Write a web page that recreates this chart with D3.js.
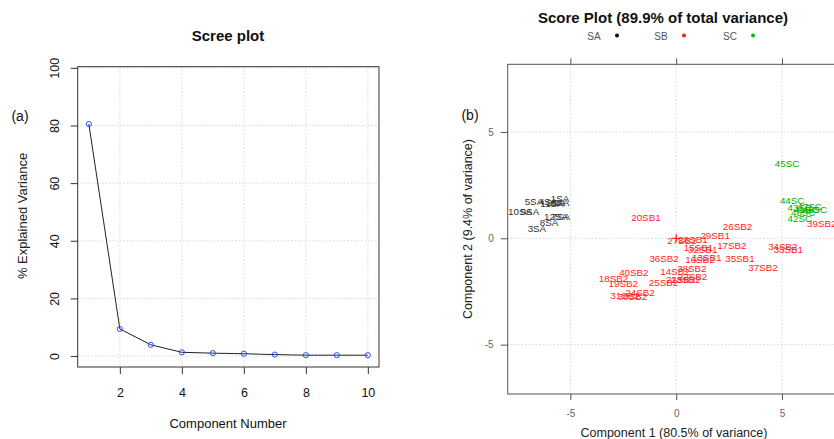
<!DOCTYPE html>
<html>
<head>
<meta charset="utf-8">
<script src="https://cdn.jsdelivr.net/npm/d3@7"></script>
<style>
  body { margin: 0; background: #fff; }
  svg { font-family: Arial, "Liberation Sans", sans-serif; display: block; }
  .grid line { stroke: #d6d6d6; stroke-dasharray: 1.5,2; }
</style>
</head>
<body>
<svg width="834" height="439"></svg>
<script>
// scree plot values
const screeComp = [1, 2, 3, 4, 5, 6, 7, 8, 9, 10];
const screeVar = [80.5, 9.4, 3.9, 1.3, 1.0, 0.8, 0.5, 0.3, 0.3, 0.3];
const screeXTicks = [2, 4, 6, 8, 10];
const screeYTicks = [0, 20, 40, 60, 80, 100];

// score plot values
const saLabels = ["1SA", "2SA", "3SA", "4SA", "5SA", "6SA", "7SA", "8SA", "9SA", "10SA", "11SA", "12SA"];
const saPC1 = [-5.49, -5.68, -6.58, -6.06, -6.72, -5.49, -5.45, -6.01, -6.91, -7.38, -5.87, -5.68];
const saPC2 = [1.85, 1.66, 0.44, 1.75, 1.75, 1.66, 1.00, 0.72, 1.24, 1.24, 1.61, 1.00];

const sbLabels = ["13SB1", "14SB2", "15SB1", "16SB2", "17SB2", "18SB2", "19SB2", "20SB1", "21SB2", "22SB2",
  "23SB2", "24SB2", "25SB2", "26SB2", "27SB2", "28SB1", "29SB1", "30SB2", "31SB2", "32SB1",
  "33SB1", "34SB2", "35SB1", "36SB2", "37SB2", "38SB2", "39SB2", "40SB2"];
const sbPC1 = [1.44, -0.06, 1.05, 1.12, 2.63, -2.96, -2.50, -1.43, 0.21, 0.77,
  0.45, -1.71, -0.60, 2.90, 0.27, 0.79, 1.84, -2.06, -2.42, 1.25,
  5.30, 5.04, 3.01, -0.57, 4.10, 0.74, 6.88, -2.00];
const sbPC2 = [-0.89, -1.55, -0.45, -1.02, -0.35, -1.90, -2.15, 0.98, -1.95, -1.80,
  -1.92, -2.56, -2.09, 0.55, -0.13, -0.08, 0.12, -2.76, -2.71, -0.55,
  -0.55, -0.39, -0.97, -0.94, -1.36, -1.40, 0.70, -1.62];

const scLabels = ["41SC", "42SC", "43SC", "44SC", "45SC", "46SC", "47SC", "48SC"];
const scPC1 = [6.16, 5.84, 5.84, 5.48, 5.24, 6.55, 6.30, 6.00];
const scPC2 = [1.36, 0.94, 1.46, 1.77, 3.53, 1.33, 1.50, 1.20];

const scoreTicks = [-5, 0, 5];
const groups = ["SA", "SB", "SC"];
const groupColors = ["#000000", "#ff1a1a", "#00c000"];
const labelColors = ["#333333", "#ff2424", "#00b000"];

const svg = d3.select("svg");

// ---------- (a) Scree plot ----------
const xS = d3.scaleLinear().domain([0.64, 10.36]).range([77.7, 379]);
const yS = d3.scaleLinear().domain([-3.8, 100.4]).range([367, 66.7]);

const scree = svg.append("g");

scree.append("g").attr("class", "grid")
  .selectAll("line").data(screeXTicks).enter().append("line")
  .attr("x1", d => xS(d)).attr("x2", d => xS(d))
  .attr("y1", yS.range()[1]).attr("y2", yS.range()[0]);

scree.append("g").attr("class", "grid")
  .selectAll("line").data(screeYTicks).enter().append("line")
  .attr("y1", d => yS(d)).attr("y2", d => yS(d))
  .attr("x1", xS.range()[0]).attr("x2", xS.range()[1]);

scree.append("rect")
  .attr("x", xS.range()[0]).attr("y", yS.range()[1])
  .attr("width", xS.range()[1] - xS.range()[0])
  .attr("height", yS.range()[0] - yS.range()[1])
  .attr("fill", "none").attr("stroke", "#333").attr("stroke-width", 1);

const screeXAxis = scree.append("g")
  .attr("transform", "translate(0," + yS.range()[0] + ")")
  .call(d3.axisBottom(xS).tickValues(screeXTicks).tickSize(7).tickPadding(14));
const screeYAxis = scree.append("g")
  .attr("transform", "translate(" + xS.range()[0] + ",0)")
  .call(d3.axisLeft(yS).tickValues(screeYTicks).tickSize(7).tickPadding(0));

[screeXAxis, screeYAxis].forEach(a => {
  a.select(".domain").remove();
  a.selectAll(".tick line").attr("stroke", "#333");
  a.selectAll(".tick text").attr("fill", "#111").attr("font-size", 12.5)
    .attr("font-family", "Arial, 'Liberation Sans', sans-serif");
});
screeYAxis.selectAll(".tick text")
  .attr("x", null).attr("dy", null)
  .attr("text-anchor", "middle")
  .attr("transform", "translate(-19,0) rotate(-90)");

scree.append("path")
  .datum(screeComp.map((c, i) => [c, screeVar[i]]))
  .attr("fill", "none").attr("stroke", "#222").attr("stroke-width", 1)
  .attr("d", d3.line().x(d => xS(d[0])).y(d => yS(d[1])));

scree.selectAll("circle.pt")
  .data(screeComp.map((c, i) => [c, screeVar[i]]))
  .enter().append("circle")
  .attr("class", "pt")
  .attr("cx", d => xS(d[0])).attr("cy", d => yS(d[1]))
  .attr("r", 2.6)
  .attr("fill", "none").attr("stroke", "#3050ff").attr("stroke-width", 1);

scree.append("text").attr("x", 228).attr("y", 41)
  .attr("text-anchor", "middle").attr("font-size", 15).attr("font-weight", "bold")
  .attr("fill", "#111").text("Scree plot");
scree.append("text").attr("x", 228).attr("y", 428)
  .attr("text-anchor", "middle").attr("font-size", 13).attr("fill", "#111")
  .text("Component Number");
scree.append("text")
  .attr("transform", "translate(27,216) rotate(-90)")
  .attr("text-anchor", "middle").attr("font-size", 13).attr("fill", "#222")
  .text("% Explained Variance");
scree.append("text").attr("x", 20).attr("y", 121)
  .attr("text-anchor", "middle").attr("font-size", 14).attr("fill", "#111").text("(a)");

// ---------- (b) Score plot ----------
const xP = d3.scaleLinear().domain([-7.96, 8.4]).range([507.7, 854]);
const yP = d3.scaleLinear().domain([-7.32, 8.18]).range([394, 64.3]);

const score = svg.append("g");

score.append("g").attr("class", "grid")
  .selectAll("line").data(scoreTicks).enter().append("line")
  .attr("x1", d => xP(d)).attr("x2", d => xP(d))
  .attr("y1", yP.range()[1]).attr("y2", yP.range()[0]);
score.append("g").attr("class", "grid")
  .selectAll("line").data(scoreTicks).enter().append("line")
  .attr("y1", d => yP(d)).attr("y2", d => yP(d))
  .attr("x1", xP.range()[0]).attr("x2", xP.range()[1]);

score.append("rect")
  .attr("x", xP.range()[0]).attr("y", yP.range()[1])
  .attr("width", xP.range()[1] - xP.range()[0])
  .attr("height", yP.range()[0] - yP.range()[1])
  .attr("fill", "none").attr("stroke", "#555").attr("stroke-width", 1);

const pBottom = score.append("g")
  .attr("transform", "translate(0," + yP.range()[0] + ")")
  .call(d3.axisBottom(xP).tickValues(scoreTicks).tickSize(6).tickPadding(10).tickFormat(d => d));
const pTop = score.append("g")
  .attr("transform", "translate(0," + yP.range()[1] + ")")
  .call(d3.axisTop(xP).tickValues(scoreTicks).tickSize(6).tickFormat(""));
const pLeft = score.append("g")
  .attr("transform", "translate(" + xP.range()[0] + ",0)")
  .call(d3.axisLeft(yP).tickValues(scoreTicks).tickSize(7).tickPadding(7).tickFormat(d => d));

[pBottom, pTop, pLeft].forEach(a => {
  a.select(".domain").remove();
  a.selectAll(".tick line").attr("stroke", "#555");
  a.selectAll(".tick text").attr("fill", "#666").attr("font-size", 10)
    .attr("font-family", "Arial, 'Liberation Sans', sans-serif");
});

// origin marker
score.append("path")
  .attr("d", "M" + (xP(0) - 4) + "," + yP(0) + "H" + (xP(0) + 4) +
    "M" + xP(0) + "," + (yP(0) - 4) + "V" + (yP(0) + 4))
  .attr("stroke", "#ff1a1a").attr("stroke-width", 1.2);

const sets = [
  [saLabels, saPC1, saPC2],
  [sbLabels, sbPC1, sbPC2],
  [scLabels, scPC1, scPC2]
];
sets.forEach((s, gi) => {
  const rows = s[0].map((lab, i) => ({ lab: lab, x: s[1][i], y: s[2][i] }));
  score.append("g").selectAll("text")
    .data(rows).enter().append("text")
    .attr("x", d => xP(d.x)).attr("y", d => yP(d.y))
    .attr("dy", "0.35em")
    .attr("text-anchor", "middle")
    .attr("font-size", 9.8)
    .attr("fill", labelColors[gi])
    .text(d => d.lab);
});

score.append("text").attr("x", 663).attr("y", 23)
  .attr("text-anchor", "middle").attr("font-size", 15).attr("font-weight", "bold")
  .attr("fill", "#111").text("Score Plot (89.9% of total variance)");

const legendX = [594, 661, 730];
groups.forEach((g, i) => {
  score.append("text").attr("x", legendX[i]).attr("y", 39.5)
    .attr("text-anchor", "middle").attr("font-size", 10).attr("fill", "#555").text(g);
  score.append("circle").attr("cx", legendX[i] + 23).attr("cy", 35.5).attr("r", 2)
    .attr("fill", groupColors[i]);
});

score.append("text").attr("x", 674).attr("y", 437)
  .attr("text-anchor", "middle").attr("font-size", 12.5).attr("fill", "#222")
  .text("Component 1 (80.5% of variance)");
score.append("text")
  .attr("transform", "translate(472,229) rotate(-90)")
  .attr("text-anchor", "middle").attr("font-size", 12.5).attr("fill", "#222")
  .text("Component 2 (9.4% of variance)");
score.append("text").attr("x", 470).attr("y", 120)
  .attr("text-anchor", "middle").attr("font-size", 14).attr("fill", "#111").text("(b)");
</script>
</body>
</html>
